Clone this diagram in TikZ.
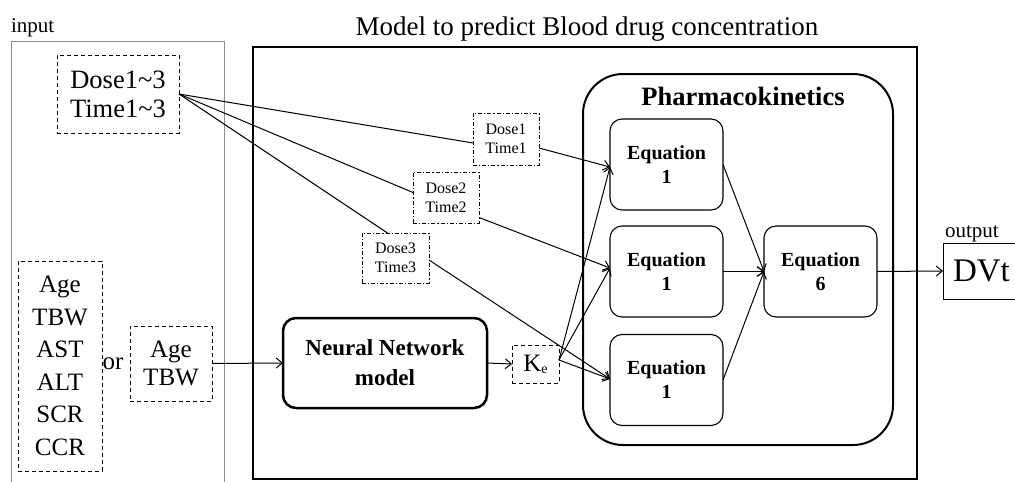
\documentclass[tikz,border=0pt]{standalone}
\usepackage{fontspec}
\setmainfont{Liberation Serif}
\usetikzlibrary{arrows.meta,calc}
\begin{document}
\begin{tikzpicture}[x=1pt,y=-1pt,
 every node/.style={inner sep=0pt, outer sep=0pt},
 dbox/.style={draw, dash pattern=on 4pt off 3pt, line width=0.9pt, align=center},
 ddbox/.style={draw, dash pattern=on 4pt off 2pt on 1.2pt off 2pt, line width=0.9pt, align=center, font=\fontsize{16}{19}\selectfont},
 eqbox/.style={draw, rounded corners=12pt, line width=1.1pt, minimum width=113pt, minimum height=91pt, align=center, font=\bfseries\fontsize{20}{24}\selectfont},
 conn/.style={line width=1pt},
 arr/.style={conn, -{Straight Barb[length=6pt,width=10pt]}}
]
\clip (0,0) rectangle (1015,482);
\fill[white] (0,0) rectangle (1015,482);

% input area
\draw[black!45, line width=0.8pt] (11,500) -- (11,41) -- (224,41) -- (224,500);
\node[anchor=base west, font=\fontsize{21}{24}\selectfont] (inlbl) at (11,32) {input};

\node[dbox, minimum width=122pt, minimum height=78pt, font=\fontsize{26.5}{29}\selectfont] (dt) at (118,94) {Dose1\textasciitilde3\\Time1\textasciitilde3};
\node[dbox, minimum width=84pt, minimum height=210pt, font=\fontsize{25}{32.5}\selectfont] (feat) at (60,366) {Age\\TBW\\AST\\ALT\\SCR\\CCR};
\node[font=\fontsize{25}{28}\selectfont] (or) at (113,364) {or};
\node[dbox, minimum width=82pt, minimum height=75pt, font=\fontsize{25}{28}\selectfont] (at) at (171,363.5) {Age\\TBW};

% model
\node[anchor=base, font=\fontsize{27}{30}\selectfont] (title) at (587,35) {Model to predict Blood drug concentration};
\node[draw, line width=2.5pt, minimum width=664pt, minimum height=432pt] (model) at (585,263) {};

\node[draw, rounded corners=13pt, line width=2.5pt, minimum width=204pt, minimum height=90pt, align=center, font=\bfseries\fontsize{23}{30}\selectfont] (nn) at (385,363) {Neural Network\\model};
\node[dbox, minimum width=47pt, minimum height=38pt, font=\fontsize{25}{28}\selectfont] (ke) at (535.5,364) {K\raisebox{-2pt}{\fontsize{14}{14}\selectfont e}};

\node[ddbox, minimum width=66pt, minimum height=52pt] (d1) at (506,139) {Dose1\\Time1};
\node[ddbox, minimum width=66pt, minimum height=51pt] (d2) at (446,197.5) {Dose2\\Time2};
\node[ddbox, minimum width=67pt, minimum height=50pt] (d3) at (395.5,258) {Dose3\\Time3};

% pharmacokinetics
\node[draw, rounded corners=40pt, line width=2pt, minimum width=310pt, minimum height=371pt] (pk) at (738,259.5) {};
\node[anchor=base, font=\bfseries\fontsize{26.5}{28}\selectfont] (pkt) at (743,105) {Pharmacokinetics};
\node[eqbox] (e1) at (666.5,164.5) {Equation\\1};
\node[eqbox] (e2) at (666.5,271.5) {Equation\\1};
\node[eqbox] (e3) at (666.5,380) {Equation\\1};
\node[eqbox] (e6) at (820.5,271.5) {Equation\\6};

% output
\node[anchor=base west, font=\fontsize{21}{24}\selectfont] (outlbl) at (945,237) {output};
\node[draw, line width=0.9pt, anchor=west, minimum height=56pt, inner xsep=10pt, text width=80pt, align=left, font=\fontsize{33}{36}\selectfont] (dv) at (943,271) {DVt};

% connectors
\draw[conn] (dt.east) -- ($(d1.west)+(0,4)$);
\draw[conn] (dt.east) -- ($(d2.west)+(0,-5)$);
\draw[conn] (dt.east) -- ($(d3.north)+(-8,0)$);
\draw[arr] ($(d1.east)+(0,9)$) -- ($(e1.west)+(0,2.5)$);
\draw[arr] ($(d2.east)+(0,20)$) -- ($(e2.west)+(0,-3.5)$);
\draw[arr] ($(d3.east)+(0,2)$) -- ($(e3.west)+(0,-1)$);
\draw[arr] (at.east) -- (nn.west);
\draw[arr] (nn.east) -- (ke.west);
\draw[arr] ($(ke.east)+(0,-4)$) -- ($(e1.west)+(0,2.5)$);
\draw[arr] ($(ke.east)+(0,-4)$) -- ($(e2.west)+(0,-3.5)$);
\draw[arr] ($(ke.east)+(0,-4)$) -- ($(e3.west)+(0,-1)$);
\draw[arr] (e1.east) -- (e6.west);
\draw[arr] (e2.east) -- (e6.west);
\draw[arr] (e3.east) -- (e6.west);
\draw[arr] (e6.east) -- (dv.west);
\end{tikzpicture}
\end{document}
